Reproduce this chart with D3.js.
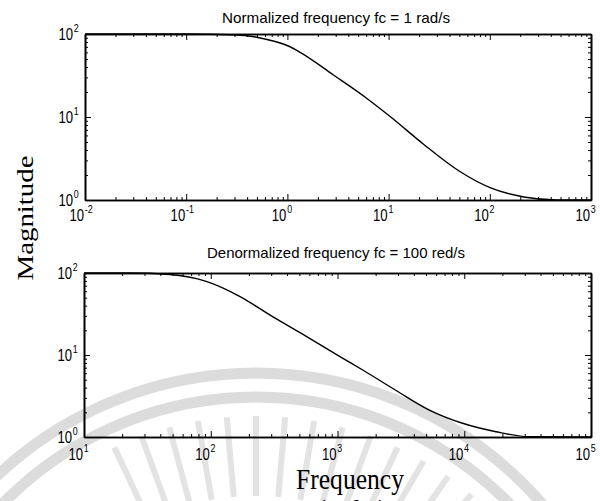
<!DOCTYPE html>
<html>
<head>
<meta charset="utf-8">
<script src="https://cdn.jsdelivr.net/npm/d3@7"></script>
<style>
  body { margin: 0; background: #fff; }
  svg { display: block; }
  .tick line { stroke: #000; stroke-width: 1; }
  .domain { stroke: #000; stroke-width: 1.6; }
</style>
</head>
<body>
<svg width="600" height="501"></svg>
<script>
// values
var topFreq = [0.01, 0.1, 0.32, 0.45, 0.63, 1.02, 1.35, 2.85, 6.2, 10.5, 22, 48, 102, 217, 460, 1000];
var topMag = [100, 100, 97.3, 93.3, 85.8, 71.7, 59.8, 32.1, 16.5, 10.0, 4.73, 2.30, 1.40, 1.087, 1.0, 1.0];
var bottomFreq = [10, 23, 47.5, 92, 169, 310, 567, 1037, 1582, 2900, 5300, 9700, 17800, 32500, 100000];
var bottomMag = [100, 100, 96, 79.2, 52, 29.1, 16.9, 9.64, 6.56, 3.69, 2.13, 1.47, 1.16, 1.01, 1.0];
var topExps = [-2, -1, 0, 1, 2, 3];
var bottomExps = [1, 2, 3, 4, 5];
var magExps = [0, 1, 2];
var topTitle = "Normalized frequency fc = 1 rad/s";
var bottomTitle = "Denormalized frequency fc = 100 red/s";

var svg = d3.select("svg");
var squeeze = 0.82; // the scan is stretched vertically

// faint watermark of the scanned page
var wm = svg.append("g").attr("fill", "none").attr("stroke", "#dcdcdc");
var cx = 256, cy = 751;
[378, 354].forEach(function (r) {
    wm.append("circle").attr("cx", cx).attr("cy", cy).attr("r", r).attr("stroke-width", 11);
});
for (var a = -115; a <= -50; a += 5) {
    var t = a * Math.PI / 180;
    wm.append("line")
        .attr("x1", cx + 255 * Math.cos(t)).attr("y1", cy + 255 * Math.sin(t))
        .attr("x2", cx + 335 * Math.cos(t)).attr("y2", cy + 335 * Math.sin(t))
        .attr("stroke-width", 6).attr("stroke", "#e3e3e3");
}

function minors(e0, e1) {
    var out = [];
    for (var e = e0; e < e1; e++) {
        for (var k = 2; k <= 9; k++) out.push(k * Math.pow(10, e));
    }
    return out;
}

function powTen(g, x, y, e, size) {
    var lab = g.append("g").attr("transform", "translate(" + x + "," + y + ") scale(" + squeeze + ",1)");
    lab.append("text").attr("text-anchor", "end").attr("font-size", size).text("10");
    lab.append("text").attr("x", 1).attr("y", -8).attr("font-size", size * 0.68).text(e);
}

function panel(p) {
    var x = d3.scaleLog().domain([Math.pow(10, p.exps[0]), Math.pow(10, p.exps[p.exps.length - 1])])
        .range([p.left, p.right]);
    var y = d3.scaleLog().domain([1, 100]).range([p.bottom, p.top]);
    var g = svg.append("g").attr("font-family", "Liberation Sans, Arial, sans-serif");

    var xMaj = p.exps.map(function (e) { return Math.pow(10, e); });
    var xMin = minors(p.exps[0], p.exps[p.exps.length - 1]);
    var yMaj = magExps.map(function (e) { return Math.pow(10, e); });
    var yMin = minors(0, 2);

    // ticks point inward on all four sides
    var sides = [
        [d3.axisBottom, "translate(0," + p.bottom + ")", x, xMaj, xMin],
        [d3.axisTop, "translate(0," + p.top + ")", x, xMaj, xMin],
        [d3.axisLeft, "translate(" + p.left + ",0)", y, yMaj, yMin],
        [d3.axisRight, "translate(" + p.right + ",0)", y, yMaj, yMin]
    ];
    sides.forEach(function (s) {
        var ax = g.append("g").attr("transform", s[1]);
        ax.call(s[0](s[2]).tickValues(s[4]).tickSize(-3).tickSizeOuter(0).tickFormat(""));
        ax.append("g").call(s[0](s[2]).tickValues(s[3]).tickSize(-6).tickSizeOuter(0).tickFormat(""));
    });

    // tick labels
    p.exps.forEach(function (e) {
        powTen(g, x(Math.pow(10, e)) - 1, p.bottom + p.xLabelGap, e, 16);
    });
    magExps.forEach(function (e) {
        powTen(g, p.left - 12, y(Math.pow(10, e)) + 6, e, 16);
    });

    // curve
    var line = d3.line()
        .x(function (d) { return x(d[0]); })
        .y(function (d) { return y(d[1]); })
        .curve(d3.curveMonotoneX);
    g.append("path")
        .datum(d3.zip(p.freq, p.mag))
        .attr("fill", "none")
        .attr("stroke", "#000")
        .attr("stroke-width", 1.4)
        .attr("d", line);

    // title
    g.append("text")
        .attr("x", (p.titleX0 + p.titleX1) / 2)
        .attr("y", p.titleY)
        .attr("text-anchor", "middle")
        .attr("font-size", 15)
        .attr("textLength", p.titleX1 - p.titleX0)
        .attr("lengthAdjust", "spacingAndGlyphs")
        .text(p.title);
}

panel({left: 85, right: 591, top: 34, bottom: 200, exps: topExps, freq: topFreq, mag: topMag,
    title: topTitle, titleX0: 222, titleX1: 450, titleY: 23, xLabelGap: 21});
panel({left: 84, right: 591, top: 273, bottom: 437, exps: bottomExps, freq: bottomFreq, mag: bottomMag,
    title: bottomTitle, titleX0: 207, titleX1: 465, titleY: 258, xLabelGap: 23});

// axis titles
var serif = "Liberation Serif, Times New Roman, serif";
svg.append("text")
    .attr("transform", "translate(33,218) rotate(-90)")
    .attr("text-anchor", "middle")
    .attr("font-family", serif)
    .attr("font-size", 24)
    .attr("textLength", 125)
    .attr("lengthAdjust", "spacingAndGlyphs")
    .text("Magnitude");
svg.append("text")
    .attr("x", 350).attr("y", 489)
    .attr("text-anchor", "middle")
    .attr("font-family", serif)
    .attr("font-size", 29)
    .attr("textLength", 108)
    .attr("lengthAdjust", "spacingAndGlyphs")
    .text("Frequency");
svg.append("text")
    .attr("x", 352).attr("y", 520)
    .attr("text-anchor", "middle")
    .attr("font-family", serif)
    .attr("font-size", 29)
    .attr("textLength", 70)
    .attr("lengthAdjust", "spacingAndGlyphs")
    .text("(rad/s)");
</script>
</body>
</html>
